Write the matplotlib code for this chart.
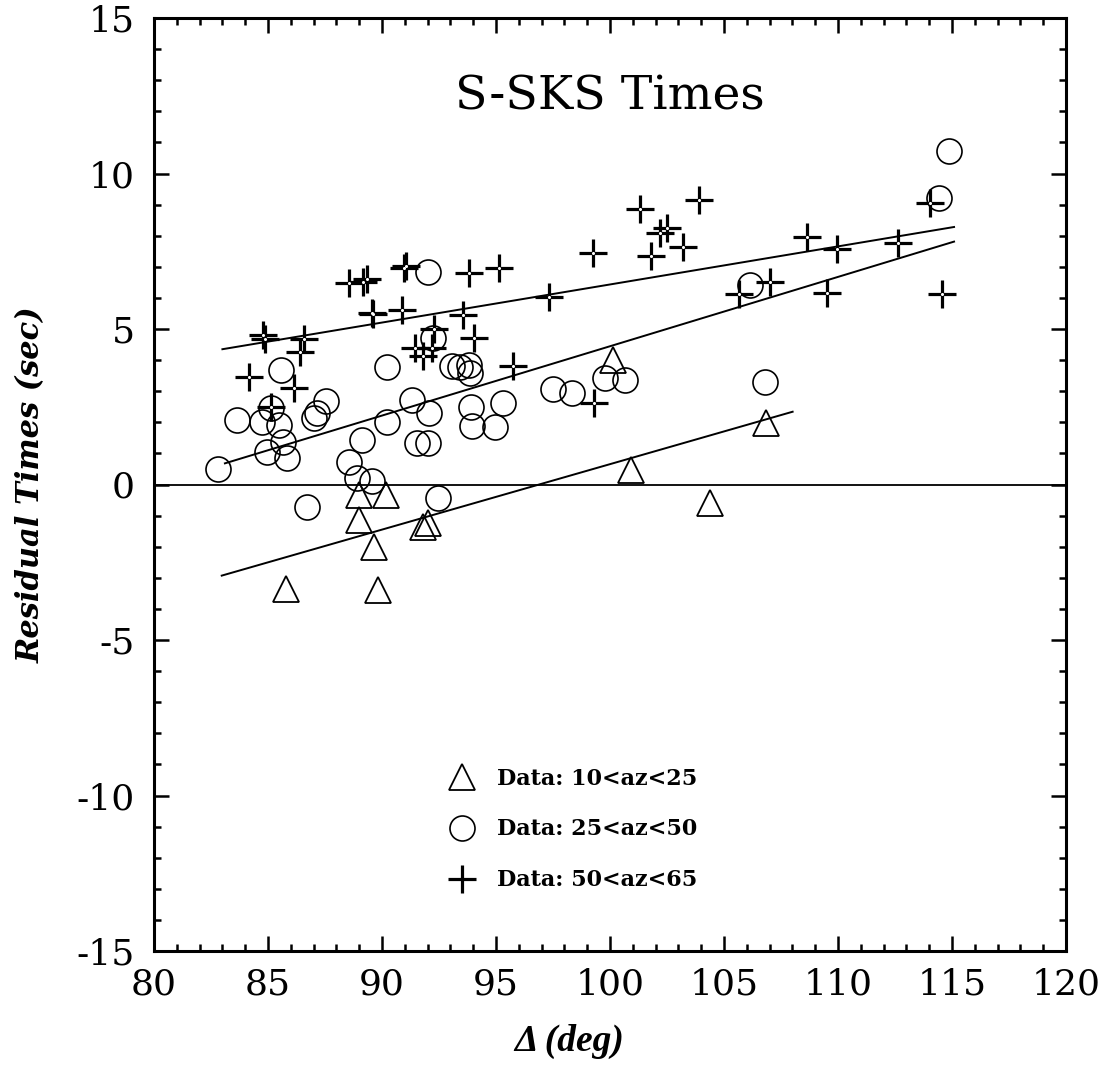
import matplotlib
matplotlib.use("Agg")
import matplotlib.pyplot as plt
import numpy as np

plt.rcParams["font.family"] = ["DejaVu Serif"]
plt.rcParams["axes.unicode_minus"] = False

# --- data ---
tri_x = [85.8, 89.84, 89.65, 89.0, 89.0, 90.16, 91.81, 92.03, 100.13, 100.92, 104.39, 106.83]
tri_y = [-3.35, -3.4, -2.0, -1.15, -0.34, -0.34, -1.36, -1.23, 4.0, 0.47, -0.6, 1.97]

circ_x = [82.82, 83.65, 84.72, 85.12, 85.5, 85.67, 84.94, 85.82, 85.56, 86.7,
          87.0, 87.15, 87.55, 88.57, 88.9, 89.55, 89.11, 90.2, 90.23, 91.3,
          92.08, 91.52, 92.03, 92.47, 92.03, 92.25, 93.05, 93.4, 93.8, 93.85,
          93.9, 93.95, 94.96, 95.32, 97.51, 98.32, 99.78, 100.66, 106.14, 106.8,
          114.44, 114.88]
circ_y = [0.5, 2.08, 2.02, 2.45, 1.9, 1.38, 1.05, 0.84, 3.68, -0.71,
          2.15, 2.3, 2.7, 0.73, 0.22, 0.1, 1.42, 2.0, 3.79, 2.72,
          2.29, 1.33, 1.33, -0.44, 6.82, 4.72, 3.82, 3.79, 3.84, 3.57,
          2.5, 1.88, 1.86, 2.61, 3.06, 2.93, 3.41, 3.36, 6.41, 3.3,
          9.2, 10.73]

plus_x = [84.17, 84.77, 84.87, 85.12, 86.14, 86.4, 86.58, 88.57, 89.15, 89.35,
          89.62, 89.55, 90.86, 90.95, 91.05, 91.45, 91.81, 92.18, 92.3, 93.57,
          93.82, 94.04, 95.15, 95.76, 97.32, 99.27, 99.31, 101.32, 101.78, 102.19,
          102.49, 103.21, 103.9, 105.67, 107.02, 108.65, 109.5, 109.97, 112.64, 114.04,
          114.54]
plus_y = [3.47, 4.81, 4.67, 2.5, 3.09, 4.27, 4.67, 6.49, 6.5, 6.62,
          5.47, 5.5, 5.61, 6.95, 7.02, 4.38, 4.13, 4.4, 5.0, 5.45,
          6.81, 4.7, 6.95, 3.81, 6.04, 7.43, 2.61, 8.85, 7.35, 8.08,
          8.24, 7.65, 9.15, 6.14, 6.52, 7.95, 6.15, 7.56, 7.76, 9.06,
          6.12]

# fitted trend lines (end points)
fit_tri_x = [82.97, 108.01]
fit_tri_y = [-2.93, 2.34]
fit_circ_x = [83.11, 115.09]
fit_circ_y = [0.68, 7.81]
fit_plus_x = [83.0, 115.09]
fit_plus_y = [4.35, 8.28]

labels = ["Data: 10<az<25", "Data: 25<az<50", "Data: 50<az<65"]

fig = plt.figure(figsize=(11.06, 10.79), dpi=100)
ax = fig.add_axes([154 / 1106, 128 / 1079, 912 / 1106, 933 / 1079])

ax.axhline(0, color="black", lw=1.3)
ax.plot(fit_tri_x, fit_tri_y, color="black", lw=1.4)
ax.plot(fit_circ_x, fit_circ_y, color="black", lw=1.4)
ax.plot(fit_plus_x, fit_plus_y, color="black", lw=1.4)

h1, = ax.plot(tri_x, tri_y, ls="none", marker="^", ms=19, mfc="none",
              mec="black", mew=1.3, label=labels[0])
h2, = ax.plot(circ_x, circ_y, ls="none", marker="o", ms=18, mfc="none",
              mec="black", mew=1.2, label=labels[1])
h3, = ax.plot(plus_x, plus_y, ls="none", marker="+", ms=20, mec="black",
              mew=2.3, label=labels[2])
ax.plot(plus_x, plus_y, ls="none", marker="o", ms=2.2, mfc="white", mec="none")

ax.set_xlim(80, 120)
ax.set_ylim(-15, 15)
ax.set_xticks(np.arange(80, 121, 5))
ax.set_yticks(np.arange(-15, 16, 5))
ax.set_xticks(np.arange(80, 121, 1), minor=True)
ax.set_yticks(np.arange(-15, 16, 1), minor=True)
ax.tick_params(which="both", direction="in", top=True, right=True, width=1.8,
               labelsize=26)
ax.tick_params(which="major", length=11)
ax.tick_params(which="minor", length=4.8)
ax.tick_params(axis="x", pad=12)
ax.tick_params(axis="y", pad=14)
for s in ax.spines.values():
    s.set_linewidth(2.2)

ax.text(0.5, 0.915, "S-SKS Times", transform=ax.transAxes, ha="center",
        va="center", fontsize=34)

ax.set_ylabel("Residual Times (sec)", fontsize=22, style="italic", weight="bold")
ax.yaxis.set_label_coords(-0.118, 0.5)
ax.set_xlabel("Δ (deg)", fontsize=27, style="italic", weight="bold",
              family="Liberation Serif")
ax.xaxis.set_label_coords(0.455, -0.078)

ax.legend(handles=[h1, h2, h3], loc="upper left", bbox_to_anchor=(0.313, 0.2085),
          frameon=False, numpoints=1, handlelength=1.0, handletextpad=1.1,
          borderpad=0, labelspacing=1.3,
          prop={"size": 16, "weight": "bold", "family": "DejaVu Serif"})

fig.savefig("out.png", dpi=100)
